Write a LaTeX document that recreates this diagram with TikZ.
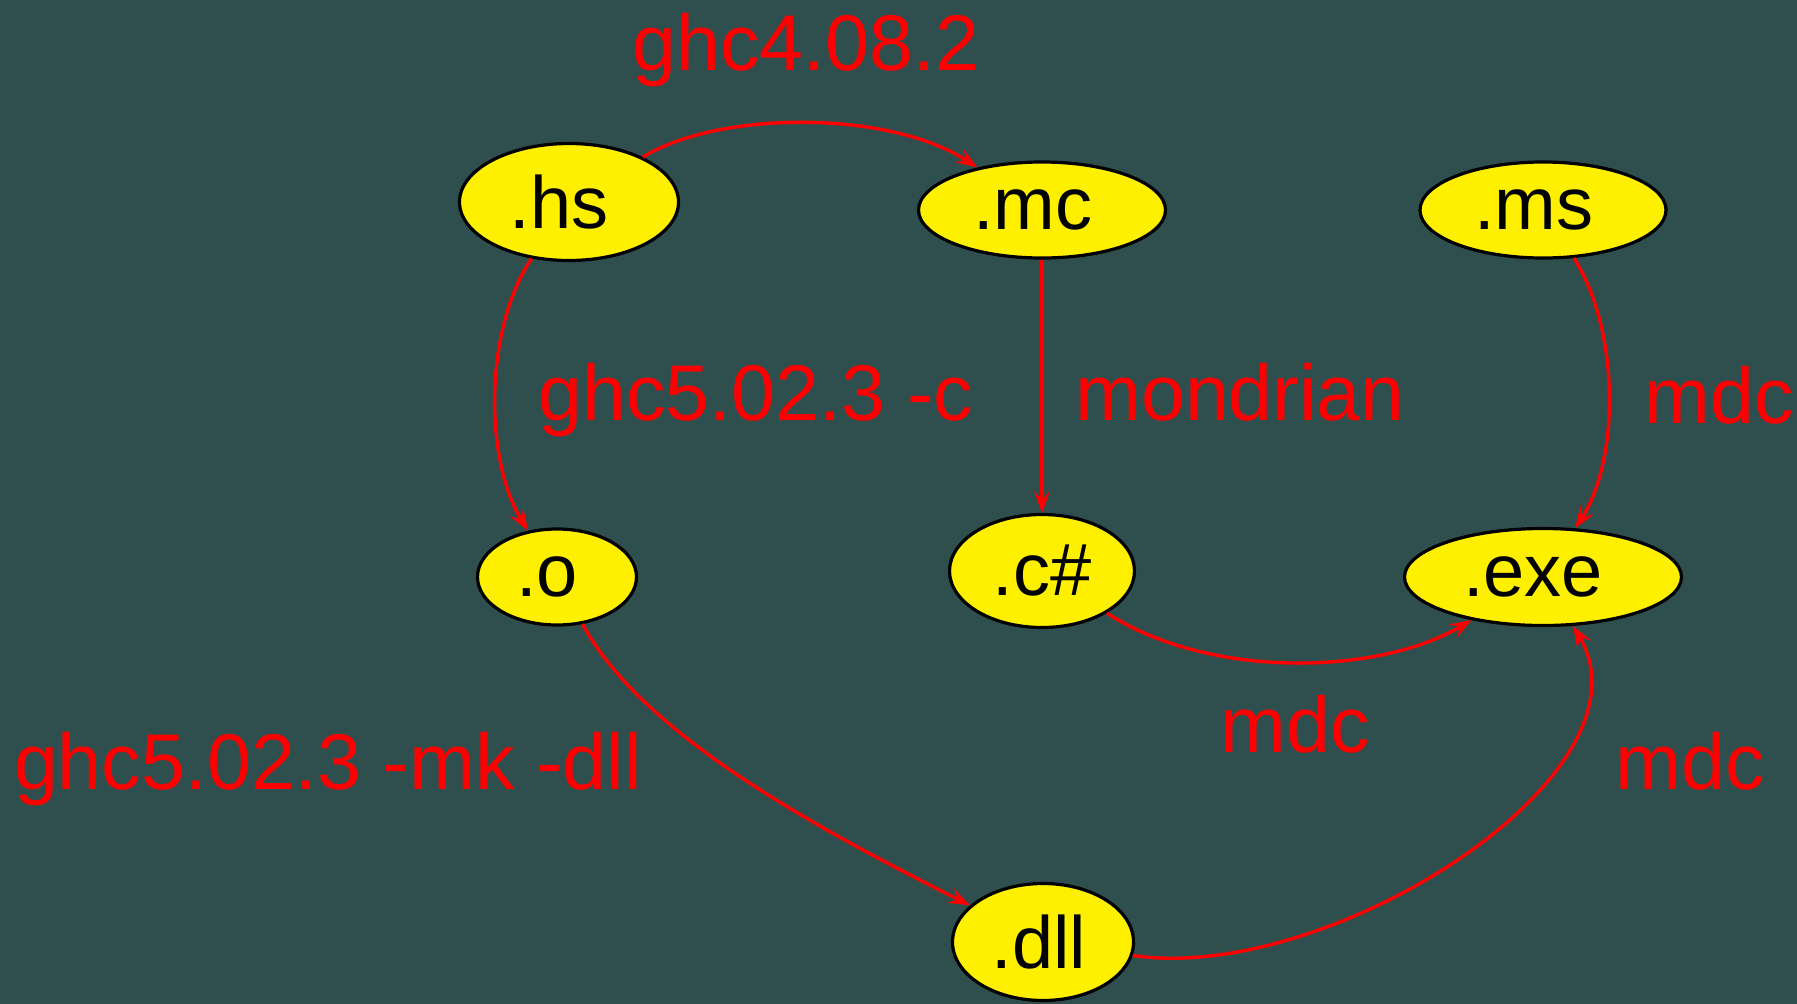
\documentclass[tikz,border=0pt]{standalone}
\usepackage{fontspec}
\setmainfont{Liberation Sans}
\usetikzlibrary{shapes.geometric,arrows.meta}

\definecolor{bgslate}{RGB}{47,79,79}
\definecolor{fileyellow}{RGB}{255,240,0}
\definecolor{toolred}{RGB}{255,0,0}

% label text nudged left by half of the given padding
\newcommand{\lefttext}[2]{#1\hspace*{#2}}

\tikzset{
  filenode/.style={ellipse, draw=black, line width=3.2pt, fill=fileyellow,
    inner sep=0pt, text=black, font=\fontsize{74}{82}\selectfont},
  edge/.style={draw=toolred, line width=3.4pt,
    -{Stealth[length=22pt,width=16pt,inset=9pt]}},
  tool/.style={text=toolred, anchor=base, inner sep=0pt,
    font=\fontsize{79}{88}\selectfont}
}

\begin{document}
\begin{tikzpicture}[x=1pt,y=-1pt]
  % canvas
  \fill[bgslate] (0,0) rectangle (1797,1004);
  \useasboundingbox (0,0) rectangle (1797,1004);

  % file types
  \node[filenode, minimum width=219pt, minimum height=117pt] (hs)  at (569,202) {\lefttext{.hs}{20pt}};
  \node[filenode, minimum width=247pt, minimum height=96pt]  (mc)  at (1042,210) {\lefttext{.mc}{18pt}};
  \node[filenode, minimum width=246pt, minimum height=96pt]  (ms)  at (1543,210) {\lefttext{.ms}{18pt}};
  \node[filenode, minimum width=159pt, minimum height=96pt]  (o)   at (557,577) {\lefttext{.o}{20pt}};
  \node[filenode, minimum width=185pt, minimum height=113pt] (cs)  at (1042,571) {.c\#};
  \node[filenode, minimum width=277pt, minimum height=97pt]  (exe) at (1543,577) {\lefttext{.exe}{20pt}};
  \node[filenode, minimum width=181pt, minimum height=117pt] (dll) at (1043,942) {\lefttext{.dll}{8pt}};

  % compilation steps
  \draw[edge] (hs) .. controls (720,110) and (890,110) .. (mc);
  \draw[edge] (hs) .. controls (484,330) and (484,460) .. (o);
  \draw[edge] (mc) -- (cs);
  \draw[edge] (ms) .. controls (1620,330) and (1620,460) .. (exe);
  \draw[edge] (cs) .. controls (1210,680) and (1380,675) .. (exe);
  \draw[edge] (o) .. controls (640,730) and (800,820) .. (dll);
  \draw[edge] (dll) .. controls (1330,985) and (1662,772) .. (exe);

  % tool labels
  \node[tool] (l1) at (806,70)  {ghc4.08.2};
  \node[tool] (l2) at (756,420) {ghc5.02.3 -c};
  \node[tool] (l3) at (1240,420) {mondrian};
  \node[tool] (l4) at (1719,423) {mdc};
  \node[tool] (l5) at (1295,752) {mdc};
  \node[tool] (l6) at (1690,789) {mdc};
  \node[tool] (l7) at (328,789) {ghc5.02.3 -mk -dll};
\end{tikzpicture}
\end{document}
